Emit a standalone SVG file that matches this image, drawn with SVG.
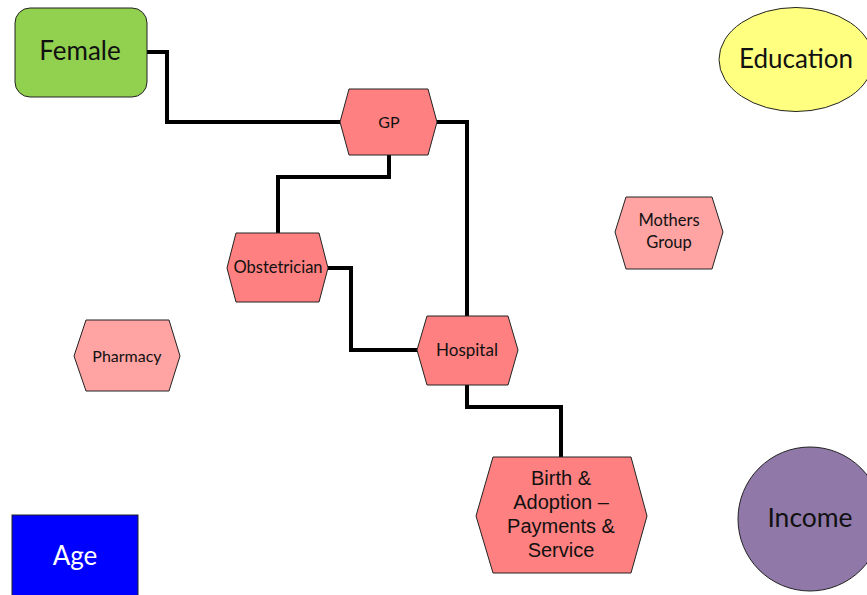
<svg xmlns="http://www.w3.org/2000/svg" width="867" height="595" viewBox="0 0 867 595">
<style>
.shape{stroke:#222;stroke-width:1}
.hex{fill:#ff8080}
.hexl{fill:#ffa3a3}
.t{font-family:Lato,"Noto Sans",sans-serif;fill:#111;text-anchor:middle;dominant-baseline:central}
.a{font-family:"Liberation Sans",Arial,sans-serif;fill:#111;text-anchor:middle}
.conn{fill:none;stroke:#000;stroke-width:4;stroke-linejoin:miter}
</style>
<rect width="867" height="595" fill="#fff"/>
<g id="connectors">
<polyline class="conn" points="147,52 167,52 167,122 340,122"/>
<polyline class="conn" points="389,155 389,177 278,177 278,233"/>
<polyline class="conn" points="437,122 467,122 467,316"/>
<polyline class="conn" points="328,268 351,268 351,350 417,350"/>
<polyline class="conn" points="467,385 467,407 561,407 561,457"/>
</g>
<g id="female">
<rect class="shape" x="15" y="8" width="132" height="89" rx="15" fill="#92d050"/>
<text class="t" x="80" y="50" font-size="26">Female</text>
</g>
<g id="education">
<ellipse class="shape" cx="796" cy="59.5" rx="77" ry="52" fill="#ffff80"/>
<text class="t" x="796" y="58" font-size="26">Education</text>
</g>
<g id="gp">
<polygon class="shape hex" points="340,122 349,89 428,89 437,122 428,155 349,155"/>
<text class="t" x="389" y="121" font-size="16">GP</text>
</g>
<g id="obstetrician">
<polygon class="shape hex" points="227,268 236,233 319,233 328,268 319,302 236,302"/>
<text class="t" x="278" y="267" font-size="16.5">Obstetrician</text>
</g>
<g id="hospital">
<polygon class="shape hex" points="417,350 427,316 508,316 518,350 508,385 427,385"/>
<text class="t" x="467" y="349" font-size="17">Hospital</text>
</g>
<g id="mothers-group">
<polygon class="shape hexl" points="615,232 626,197 712,197 723,232 712,269 626,269"/>
<text class="t" x="669" y="220" font-size="16.5">Mothers</text>
<text class="t" x="669" y="242" font-size="16.5">Group</text>
</g>
<g id="pharmacy">
<polygon class="shape hexl" points="74,356 86,320 169,320 180,356 169,391 86,391"/>
<text class="t" x="127" y="355" font-size="16">Pharmacy</text>
</g>
<g id="birth">
<polygon class="shape hex" points="476,516 493,457 631,457 647,516 631,573 493,573"/>
<text class="a" font-size="20"><tspan x="561" y="485">Birth &amp;</tspan><tspan x="561" y="509">Adoption –</tspan><tspan x="561" y="533">Payments &amp;</tspan><tspan x="561" y="557">Service</tspan></text>
</g>
<g id="income">
<circle class="shape" cx="810" cy="519" r="72" fill="#9079a9"/>
<text class="t" x="810" y="517" font-size="26.5">Income</text>
</g>
<g id="age">
<rect class="shape" x="12" y="515" width="126" height="90" fill="#0000ff"/>
<text class="t" x="75" y="555" font-size="26" style="fill:#fff">Age</text>
</g>
</svg>
